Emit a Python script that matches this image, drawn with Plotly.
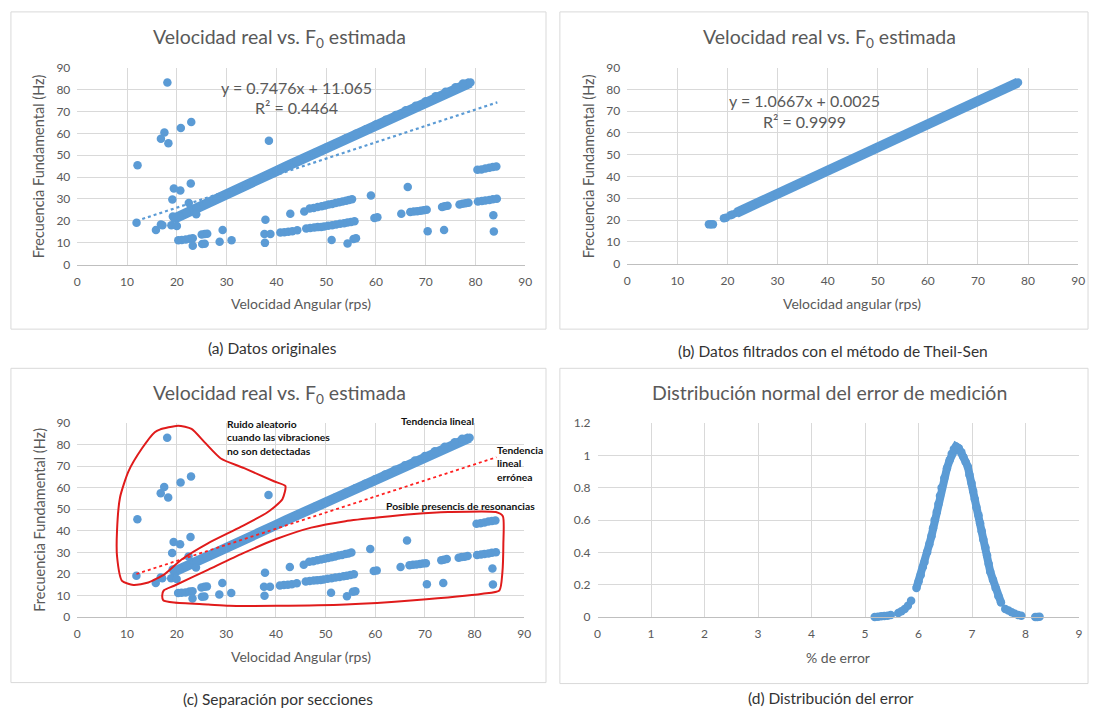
import plotly.graph_objects as go

W, H = 1098, 717
BLUE = '#5b9bd5'
GRAY = '#595959'
GRID = '#d9d9d9'
FONT = 'Lato'

# ---------------- data ----------------
# main linear band (panels a and c)
band_x = [19.5, 20.5, 22, 24, 26, 28, 30, 32, 34, 36, 38, 40, 42, 44, 46, 48, 50,
          52, 54, 56, 58, 60, 62, 64, 66, 68, 70, 72, 74, 76, 77.5, 79]
band_y = [21.0, 22.0, 23.6, 25.7, 27.8, 30.0, 32.1, 34.2, 36.3, 38.5, 40.6, 42.7,
          44.9, 47.0, 49.2, 51.3, 53.4, 55.5, 57.7, 59.8, 61.9, 64.0, 66.2, 68.4,
          70.5, 72.6, 74.7, 76.9, 79.0, 81.1, 82.8, 83.2]

# random noise points
noise_x = [12.1, 11.9, 18.1, 17.5, 16.8, 18.3, 20.8, 22.9, 38.5, 22.8, 19.4, 20.7,
           19.1, 22.4, 15.8, 16.8, 17.1, 18.9, 20.0, 19.2, 23.9]
noise_y = [45.4, 19.1, 83.2, 60.4, 57.5, 55.5, 62.4, 65.2, 56.6, 37.1, 34.8, 33.8,
           29.7, 28.1, 15.8, 18.3, 18.0, 18.0, 17.6, 22.0, 23.0]

# resonance points
res_x = [20.3, 21.0, 21.8, 22.6, 23.2, 23.2, 25.1, 25.6, 25.0, 25.6, 26.1, 28.6, 29.2,
         31.0, 37.6, 38.8, 37.7, 37.8, 40.8, 41.6, 42.4, 43.2, 44.2, 42.8, 45.6,
         46.7, 47.5, 48.3, 49.1, 49.8, 50.5, 51.2, 51.9, 52.6, 53.3, 54.0, 54.6, 55.2,
         46.0, 46.8, 47.6, 48.3, 49.0, 49.6, 50.4, 51.2, 52.0, 52.8, 53.6, 54.3, 55.0, 55.7,
         51.1, 54.3, 55.5, 56.0, 59.0, 59.7, 60.3, 65.1, 66.4,
         66.9, 67.6, 68.3, 69.0, 69.6, 70.2, 70.4, 73.7, 73.3, 73.8, 74.4, 76.8, 77.4, 78.0, 78.6,
         80.5, 81.3, 82.0, 82.8, 83.5, 84.3, 80.4, 81.2, 82.0, 82.8, 83.5, 84.2, 83.6, 83.7]
res_y = [11.1, 11.2, 11.4, 11.8, 12.0, 8.6, 9.4, 9.5, 13.7, 14.0, 14.1, 10.4, 15.8,
         11.1, 14.0, 14.0, 9.9, 20.5, 14.6, 14.8, 15.0, 15.2, 15.7, 23.2, 24.3,
         25.6, 25.9, 26.3, 26.7, 27.0, 27.4, 27.7, 28.1, 28.5, 28.8, 29.2, 29.5, 29.9,
         16.5, 16.7, 16.9, 17.1, 17.2, 17.4, 17.7, 18.0, 18.3, 18.6, 18.9, 19.2, 19.5, 19.8,
         11.2, 9.6, 11.7, 12.0, 31.6, 21.3, 21.6, 23.2, 35.5,
         24.0, 24.2, 24.4, 24.6, 24.8, 25.0, 15.2, 15.8, 26.3, 26.6, 26.9, 27.5, 27.8, 28.0, 28.3,
         28.8, 29.0, 29.3, 29.5, 29.8, 30.1, 43.3, 43.5, 43.9, 44.3, 44.6, 44.8, 22.5, 15.1]

# linear trend of original data (y = 0.7476x + 11.065)
trend_x = [11.9, 84.4]
trend_y = [19.96, 74.16]

# panel b: Theil-Sen filtered data
b_start_x = [16.3, 16.7, 17.1, 19.3, 19.7, 20.6, 21.0]
b_start_y = [18.0, 18.1, 18.0, 20.8, 21.1, 22.2, 22.5]
b_band_x = [21.8, 25, 30, 35, 40, 45, 50, 55, 60, 65, 70, 75, 77, 78]
b_band_y = [23.3, 26.7, 32.0, 37.3, 42.7, 48.0, 53.3, 58.7, 64.0, 69.3, 74.7, 80.0, 82.1, 83.2]

# panel d: error distribution
d_left_x = [5.18, 5.24, 5.30, 5.36, 5.42, 5.48, 5.62, 5.68, 5.74, 5.80, 5.86]
d_left_y = [0.0, 0.002, 0.004, 0.006, 0.008, 0.012, 0.025, 0.035, 0.05, 0.07, 0.10]
d_core_x = [5.96, 6.00, 6.04, 6.08, 6.11, 6.16, 6.20, 6.24, 6.27, 6.30, 6.34, 6.37,
            6.40, 6.43, 6.48, 6.53, 6.58, 6.62, 6.66, 6.70, 6.75, 6.80, 6.84, 6.88,
            6.92, 6.95, 6.99, 7.02, 7.05, 7.08, 7.12, 7.15, 7.18, 7.21, 7.25, 7.28,
            7.31, 7.34, 7.39, 7.44, 7.49, 7.54]
d_core_y = [0.18, 0.22, 0.26, 0.31, 0.34, 0.40, 0.45, 0.50, 0.55, 0.60, 0.65, 0.70,
            0.75, 0.80, 0.86, 0.92, 0.97, 1.01, 1.04, 1.055, 1.045, 1.02, 0.99, 0.96,
            0.93, 0.88, 0.83, 0.78, 0.73, 0.68, 0.63, 0.58, 0.53, 0.48, 0.43, 0.38,
            0.33, 0.28, 0.23, 0.18, 0.13, 0.09]
d_right_x = [7.62, 7.68, 7.74, 7.80, 7.86, 7.92, 8.18, 8.22, 8.26]
d_right_y = [0.05, 0.04, 0.03, 0.02, 0.012, 0.008, 0.0, 0.0, 0.002]

# hand-drawn outlines of panel c (data coordinates)
noise_outline_x = [16.6, 20.3, 23.0, 25.6, 28.9, 33.6, 39.6, 41.9, 41.3, 38.3, 32.9,
                   26.3, 21.0, 17.6, 14.3, 11.3, 9.0, 8.0, 8.0, 8.6, 10.3, 13.0, 15.6, 16.6]
noise_outline_y = [87.0, 88.8, 87.3, 81.2, 73.6, 69.1, 63.0, 60.8, 54.7, 48.6, 41.8,
                   34.2, 26.7, 19.9, 16.0, 14.9, 16.8, 28.2, 40.3, 55.5, 67.6, 78.2, 85.8, 87.0]
res_outline_x = [17.1, 17.4, 19.5, 26.4, 33.3, 40.2, 47.1, 54.0, 60.9, 67.8, 74.7, 84.3,
                 85.7, 85.8, 85.6, 85.0, 81.6, 67.8, 54.0, 40.2, 30.6, 26.4, 19.5, 17.3, 17.1]
res_outline_y = [10.0, 12.3, 14.5, 22.0, 29.5, 36.3, 41.5, 44.5, 46.3, 47.8, 48.7, 48.7,
                 46.8, 34.0, 20.5, 12.3, 10.8, 7.8, 5.8, 5.2, 5.2, 5.8, 6.7, 7.8, 10.0]

# ---------------- helpers ----------------
def px(x):
    return x / W

def py(y):
    return 1 - y / H

MS = 8.5

def mk(color=BLUE):
    return dict(color=color, size=MS, line=dict(width=0))

fig = go.Figure()

# ---- panel a ----
fig.add_trace(go.Scatter(x=band_x, y=band_y, mode='lines+markers', xaxis='x', yaxis='y',
                         line=dict(color=BLUE, width=10), marker=mk(), cliponaxis=False))
fig.add_trace(go.Scatter(x=noise_x + res_x, y=noise_y + res_y, mode='markers', xaxis='x', yaxis='y',
                         marker=mk(), cliponaxis=False))
fig.add_trace(go.Scatter(x=trend_x, y=trend_y, mode='lines', xaxis='x', yaxis='y',
                         line=dict(color=BLUE, width=2.2, dash='dot')))

# ---- panel b ----
fig.add_trace(go.Scatter(x=b_band_x, y=b_band_y, mode='lines+markers', xaxis='x2', yaxis='y2',
                         line=dict(color=BLUE, width=10), marker=mk(), cliponaxis=False))
fig.add_trace(go.Scatter(x=b_start_x, y=b_start_y, mode='markers', xaxis='x2', yaxis='y2',
                         marker=mk(), cliponaxis=False))

# ---- panel c ----
fig.add_trace(go.Scatter(x=band_x, y=band_y, mode='lines+markers', xaxis='x3', yaxis='y3',
                         line=dict(color=BLUE, width=10), marker=mk(), cliponaxis=False))
fig.add_trace(go.Scatter(x=noise_x + res_x, y=noise_y + res_y, mode='markers', xaxis='x3', yaxis='y3',
                         marker=mk(), cliponaxis=False))
fig.add_trace(go.Scatter(x=trend_x, y=trend_y, mode='lines', xaxis='x3', yaxis='y3',
                         line=dict(color='#ff2020', width=1.8, dash='dot')))
for ox, oy in ((noise_outline_x, noise_outline_y), (res_outline_x, res_outline_y)):
    fig.add_trace(go.Scatter(x=ox, y=oy, mode='lines', xaxis='x3', yaxis='y3', cliponaxis=False,
                             line=dict(color='#e01b1b', width=2, shape='spline', smoothing=0.6)))

# ---- panel d ----
fig.add_trace(go.Scatter(x=d_core_x, y=d_core_y, mode='lines+markers', xaxis='x4', yaxis='y4',
                         line=dict(color=BLUE, width=8), marker=mk(), cliponaxis=False))
fig.add_trace(go.Scatter(x=d_left_x + d_right_x, y=d_left_y + d_right_y, mode='markers',
                         xaxis='x4', yaxis='y4', marker=mk(), cliponaxis=False))

tickfont = dict(family=FONT, size=12, color=GRAY)

def xax(x0, x1, anchor, rng, dtick):
    return dict(domain=[px(x0), px(x1)], anchor=anchor, range=rng, dtick=dtick, tick0=0,
                showgrid=True, gridcolor=GRID, gridwidth=1, zeroline=False,
                showline=True, linecolor='#bfbfbf', linewidth=1, ticks='',
                tickfont=tickfont, ticklabelstandoff=6, fixedrange=True)

def yax(y0, y1, anchor, rng, dtick):
    return dict(domain=[py(y1), py(y0)], anchor=anchor, range=rng, dtick=dtick, tick0=0,
                showgrid=True, gridcolor=GRID, gridwidth=1, zeroline=False,
                showline=False, ticks='', tickfont=tickfont, ticklabelstandoff=6,
                fixedrange=True)

layout = dict(
    width=W, height=H, margin=dict(l=0, r=0, t=0, b=0),
    paper_bgcolor='white', plot_bgcolor='white', showlegend=False,
    xaxis=xax(75, 527, 'y', [0, 90], 10),
    yaxis=yax(61, 262, 'x', [0, 90], 10),
    xaxis2=xax(630, 1085, 'y2', [0, 90], 10),
    yaxis2=yax(61, 261, 'x2', [0, 90], 10),
    xaxis3=xax(75, 526, 'y3', [0, 90], 10),
    yaxis3=yax(424, 622, 'x3', [0, 90], 10),
    xaxis4=xax(600, 1086, 'y4', [0, 9], 1),
    yaxis4=yax(424, 622, 'x4', [0, 1.2], 0.2),
)
fig.update_layout(**layout)

# panel frames
shapes = []
for (x0, y0, x1, y1) in [(8, 4, 548, 328), (562, 4, 1095, 328), (8, 368, 548, 689), (562, 368, 1095, 690)]:
    shapes.append(dict(type='rect', xref='paper', yref='paper', x0=px(x0), x1=px(x1),
                       y0=py(y1), y1=py(y0), line=dict(color=GRID, width=1), layer='below'))
fig.update_layout(shapes=shapes)

ann = []

def text(x, y, s, size, color=GRAY, angle=0, xanchor='center', bold=False, align='center'):
    ann.append(dict(x=px(x), y=py(y), xref='paper', yref='paper', text=s, showarrow=False,
                    textangle=angle, xanchor=xanchor, yanchor='middle', align=align,
                    font=dict(family=FONT, size=size, color=color,
                              weight='bold' if bold else 'normal')))

title = 'Velocidad real vs. F<sub>0</sub> estimada'
text(279, 31, title, 19.5)
text(834, 31, title, 19.5)
text(279, 394, title, 19.5)
text(834, 393, 'Distribución normal del error de medición', 19.5)

# axis titles
text(301, 302, 'Velocidad Angular (rps)', 14)
text(857, 302, 'Velocidad angular (rps)', 14)
text(301, 662, 'Velocidad Angular (rps)', 14)
text(843, 663, '% de error', 14)
text(36, 162, 'Frecuencia Fundamental (Hz)', 14.5, angle=-90)
text(591, 162, 'Frecuencia Fundamental (Hz)', 14.5, angle=-90)
text(36, 523, 'Frecuencia Fundamental (Hz)', 14.5, angle=-90)

# equations
for xr, yr, s, xv, yv in [('x', 'y', 'y = 0.7476x + 11.065', 44, 80.8),
                          ('x', 'y', 'R² = 0.4464', 44, 72),
                          ('x2', 'y2', 'y = 1.0667x + 0.0025', 35.4, 74.8),
                          ('x2', 'y2', 'R² = 0.9999', 35.4, 65.2)]:
    ann.append(dict(x=xv, y=yv, xref=xr, yref=yr, text=s, showarrow=False,
                    font=dict(family=FONT, size=16, color=GRAY)))

# captions
CAP = '#333333'
text(272, 347, '(a) Datos originales', 15.5, color=CAP)
text(838, 350, '(b) Datos filtrados con el método de Theil-Sen', 15.5, color=CAP)
text(278, 706, '(c) Separación por secciones', 15.5, color=CAP)
text(836, 705, '(d) Distribución del error', 15.5, color=CAP)

# panel c notes
NOTE = 10.3
text(224, 439, 'Ruido aleatorio<br>cuando las vibraciones<br>no son detectadas', NOTE,
     color='#111111', xanchor='left', bold=True, align='left')
text(438, 422, 'Tendencia lineal', NOTE, color='#111111', bold=True)
text(497, 465, 'Tendencia<br>lineal<br>errónea', NOTE, color='#111111', xanchor='left',
     bold=True, align='left')
text(385, 509, 'Posible presencis de resonancias', NOTE, color='#111111', xanchor='left', bold=True)

fig.update_layout(annotations=ann)

fig.write_html('out.html')
